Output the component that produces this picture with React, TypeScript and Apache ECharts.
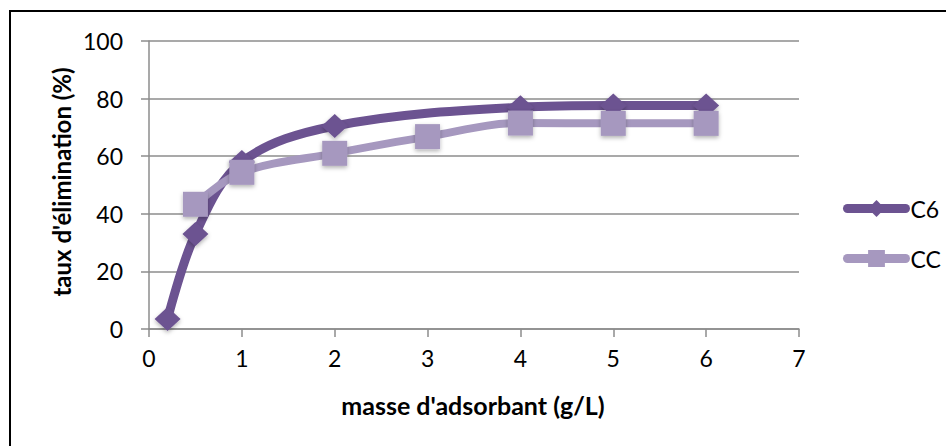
import React, { useEffect, useRef } from "react";
import * as echarts from "echarts";

const seriesNames = ["C6", "CC"];
const c6X = [0.2, 0.5, 1, 2, 4, 5, 6];
const c6Y = [3.5, 33, 58, 70.5, 77, 77.6, 77.6];
const ccX = [0.5, 1, 2, 3, 4, 5, 6];
const ccY = [43.3, 54.4, 61, 66.8, 71.5, 71.4, 71.4];
const xTitle = "masse d'adsorbant (g/L)";
const yTitle = "taux d'élimination (%)";

const C6_COLOR = "#6c5391";
const CC_COLOR = "#a698bf";
const FONT = "Lato, 'Open Sans', sans-serif";

export default function App() {
  const ref = useRef<HTMLDivElement>(null);
  useEffect(() => {
    if (!ref.current) return;
    const chart = echarts.init(ref.current, null, { renderer: "svg" });
    const pair = (xs: number[], ys: number[]) => xs.map((x, i) => [x, ys[i]]);
    chart.setOption({
      animation: false,
      backgroundColor: "#ffffff",
      textStyle: { fontFamily: FONT },
      grid: { left: 149, right: 147, top: 41, bottom: 117 },
      graphic: [
        {
          type: "rect",
          shape: { x: 10, y: 11, width: 1000, height: 500 },
          style: { fill: "none", stroke: "#000", lineWidth: 2 },
          silent: true,
          z: -10,
        },
        {
          type: "group",
          x: 61,
          y: 182,
          children: [
            {
              type: "text",
              rotation: Math.PI / 2,
              style: {
                text: yTitle,
                fontSize: 24,
                fontWeight: "bold",
                fontFamily: FONT,
                fill: "#000",
                align: "center",
                verticalAlign: "middle",
              },
            },
          ],
        },
        {
          type: "text",
          x: 473,
          y: 405,
          style: {
            text: xTitle,
            fontSize: 25,
            fontWeight: "bold",
            fontFamily: FONT,
            fill: "#000",
            align: "center",
            verticalAlign: "middle",
          },
        },
      ],
      legend: {
        orient: "vertical",
        left: 843,
        top: 197,
        padding: 0,
        itemWidth: 58,
        itemHeight: 21,
        itemGap: 27,
        textStyle: { fontSize: 23, color: "#000", fontFamily: FONT },
        data: [
          { name: seriesNames[0], lineStyle: { width: 9, cap: "round", color: C6_COLOR } },
          { name: seriesNames[1], lineStyle: { width: 9, cap: "round", color: CC_COLOR } },
        ],
      },
      xAxis: {
        type: "value",
        min: 0,
        max: 7,
        interval: 1,
        axisLine: { show: true, lineStyle: { color: "#8c8c8c", width: 1.5 } },
        axisTick: { show: true, length: 8, lineStyle: { color: "#8c8c8c", width: 1.5 } },
        axisLabel: { fontSize: 23, color: "#000", margin: 17, fontFamily: FONT },
        splitLine: { show: false },
      },
      yAxis: {
        type: "value",
        min: 0,
        max: 100,
        interval: 20,
        axisLine: { show: true, lineStyle: { color: "#8c8c8c", width: 1.5 } },
        axisTick: { show: true, length: 8, lineStyle: { color: "#8c8c8c", width: 1.5 } },
        axisLabel: { fontSize: 23, color: "#000", margin: 26, fontFamily: FONT },
        splitLine: { show: true, lineStyle: { color: "#8c8c8c", width: 1.5 } },
      },
      series: [
        {
          name: seriesNames[0],
          type: "line",
          data: pair(c6X, c6Y),
          smooth: 0.35,
          symbol: "diamond",
          symbolSize: [26, 24],
          color: C6_COLOR,
          lineStyle: { color: C6_COLOR, width: 9, cap: "round", join: "round" },
          itemStyle: {
            color: C6_COLOR,
            shadowBlur: 4,
            shadowColor: "rgba(0,0,0,0.3)",
            shadowOffsetY: 2,
          },
          z: 2,
        },
        {
          name: seriesNames[1],
          type: "line",
          data: pair(ccX, ccY),
          smooth: 0.35,
          symbol: "rect",
          symbolSize: 25,
          color: CC_COLOR,
          lineStyle: { color: CC_COLOR, width: 8, cap: "round", join: "round" },
          itemStyle: {
            color: CC_COLOR,
            shadowBlur: 4,
            shadowColor: "rgba(0,0,0,0.3)",
            shadowOffsetY: 2,
          },
          z: 3,
        },
      ],
    });
    return () => chart.dispose();
  }, []);
  return (
    <div
      ref={ref}
      style={{ position: "fixed", left: 0, top: 0, width: 946, height: 446, background: "#fff" }}
    />
  );
}
